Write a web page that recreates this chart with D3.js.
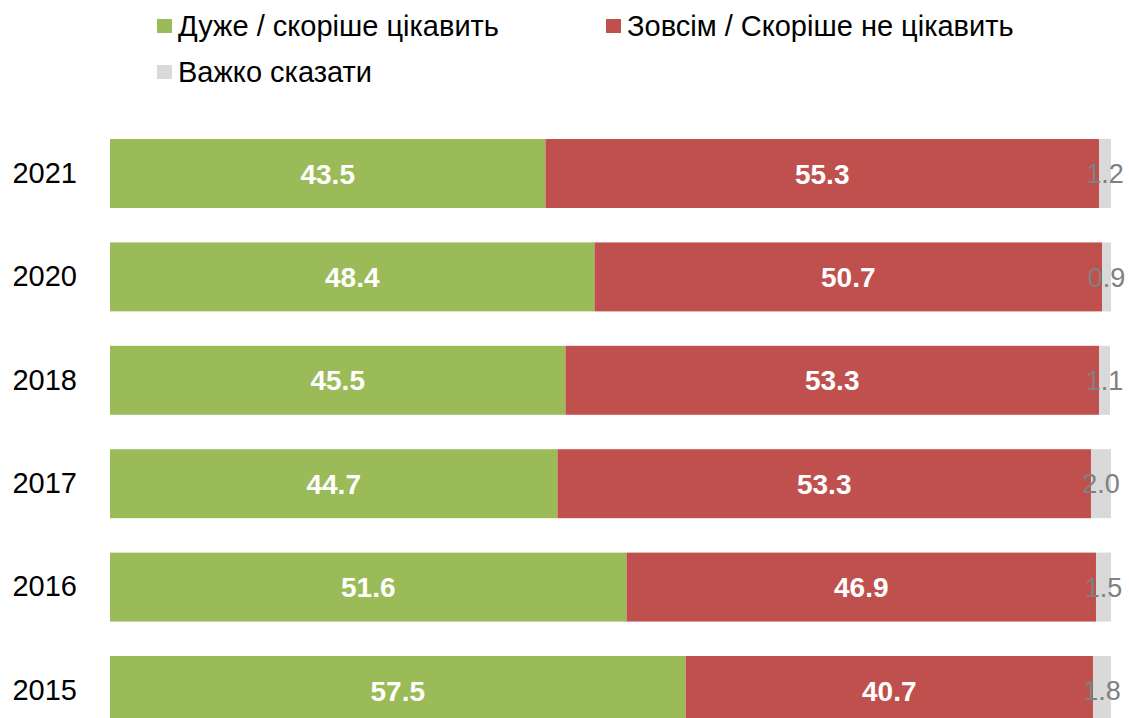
<!DOCTYPE html>
<html>
<head>
<meta charset="utf-8">
<script src="https://cdn.jsdelivr.net/npm/d3@7"></script>
<style>
  body { margin: 0; background: #fff; }
  text { font-family: "Liberation Sans", Arial, sans-serif; }
</style>
</head>
<body>
<div id="chart-area"></div>
<script>
var years = ["2021", "2020", "2018", "2017", "2016", "2015"];
var interested = [43.5, 48.4, 45.5, 44.7, 51.6, 57.5];
var notInterested = [55.3, 50.7, 53.3, 53.3, 46.9, 40.7];
var hardToSay = [1.2, 0.9, 1.1, 2.0, 1.5, 1.8];
var seriesNames = ["Дуже / скоріше цікавить", "Зовсім / Скоріше не цікавить", "Важко сказати"];
var colors = ["#9bbb59", "#c0504d", "#d9d9d9"];

var width = 1129, height = 718;

var svg = d3.select("#chart-area").append("svg")
    .attr("width", width)
    .attr("height", height);

var data = years.map(function(y, i) {
    return {year: y, vals: [interested[i], notInterested[i], hardToSay[i]]};
});

var x = d3.scaleLinear()
    .domain([0, 100])
    .range([110, 1111]);

var y = d3.scaleBand()
    .domain(years)
    .range([121.8, 742.2])
    .paddingInner(0.333)
    .paddingOuter(0.1665);

var rows = svg.selectAll("g.row")
    .data(data)
    .enter()
    .append("g")
    .attr("class", "row");

rows.each(function(d) {
    var g = d3.select(this);
    var start = 0;
    var segs = d.vals.map(function(v, k) {
        var s = {x0: start, x1: start + v, v: v, k: k};
        start += v;
        return s;
    });
    g.selectAll("rect")
        .data(segs)
        .enter()
        .append("rect")
        .attr("x", function(s) { return x(s.x0); })
        .attr("y", y(d.year))
        .attr("width", function(s) { return x(s.x1) - x(s.x0); })
        .attr("height", y.bandwidth())
        .attr("fill", function(s) { return colors[s.k]; });

    g.selectAll("text.val")
        .data(segs)
        .enter()
        .append("text")
        .attr("class", "val")
        .attr("x", function(s) { return (x(s.x0) + x(s.x1)) / 2; })
        .attr("y", y(d.year) + y.bandwidth() / 2)
        .attr("dy", "0.36em")
        .attr("text-anchor", "middle")
        .attr("font-size", function(s) { return s.k < 2 ? "28px" : "27px"; })
        .attr("font-weight", function(s) { return s.k < 2 ? "bold" : "normal"; })
        .attr("fill", function(s) { return s.k < 2 ? "#ffffff" : "#808080"; })
        .text(function(s) { return s.v.toFixed(1); });
});

var leftAxis = d3.axisLeft(y).tickSize(0).tickPadding(33);
svg.append("g")
    .attr("class", "left axis")
    .attr("transform", "translate(110,0)")
    .call(leftAxis)
    .call(function(g) { g.select(".domain").remove(); })
    .selectAll("text")
    .attr("font-size", "29px")
    .attr("fill", "#000")
    .attr("font-family", "'Liberation Sans', Arial, sans-serif");

// legend
var legendPos = [[157, 26], [606, 26], [157, 72]];
var legend = svg.selectAll("g.legend")
    .data(seriesNames)
    .enter()
    .append("g")
    .attr("class", "legend")
    .attr("transform", function(d, i) { return "translate(" + legendPos[i][0] + "," + legendPos[i][1] + ")"; });

legend.append("rect")
    .attr("x", 0)
    .attr("y", -7)
    .attr("width", 15)
    .attr("height", 14)
    .attr("fill", function(d, i) { return colors[i]; });

legend.append("text")
    .attr("x", 21)
    .attr("y", 0)
    .attr("dy", "0.35em")
    .attr("font-size", "29px")
    .attr("fill", "#000")
    .text(function(d) { return d; });
</script>
</body>
</html>
